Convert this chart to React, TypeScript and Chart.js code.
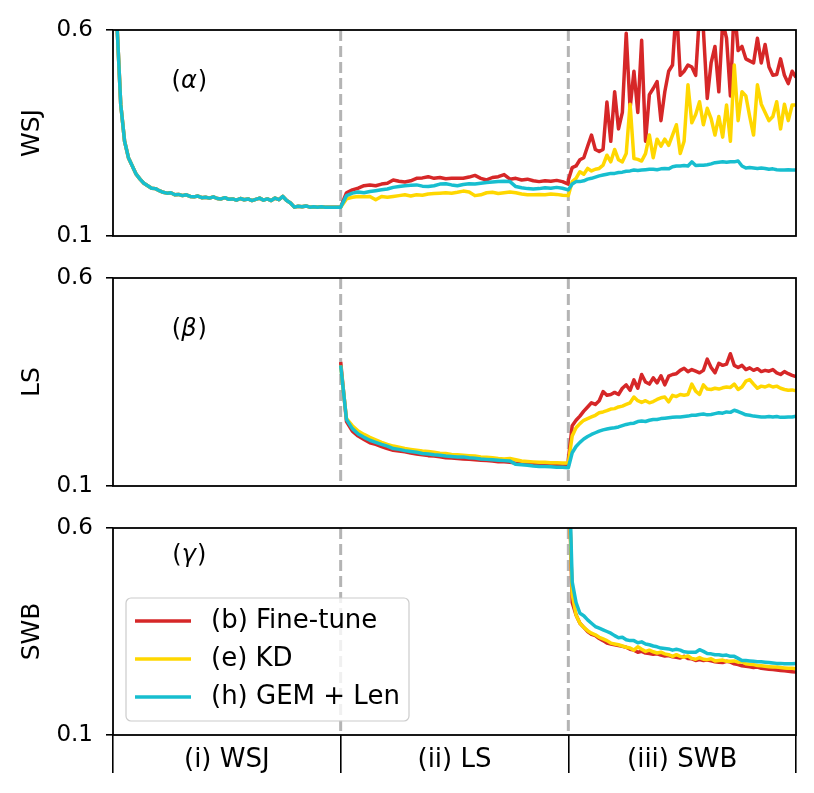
import React, { useEffect, useRef } from "react";
import Chart from "chart.js/auto";

Chart.defaults.font.family = '"DejaVu Sans", sans-serif';
Chart.defaults.color = "#000";

const tasks = ["(i) WSJ", "(ii) LS", "(iii) SWB"];
const methods = ["(b) Fine-tune", "(e) KD", "(h) GEM + Len"];
const colors = ["#d62728", "#ffd700", "#17becf"];
const yTicks = [0.1, 0.6];

// WSJ error while training on WSJ (same model for every method)
const wsjDuringWsj = [
  0.95, 0.62, 0.42, 0.33, 0.29, 0.27, 0.25, 0.238, 0.228, 0.222, 0.216, 0.215, 0.21, 0.206, 0.204,
  0.205, 0.2, 0.201, 0.198, 0.2, 0.196, 0.195, 0.197, 0.193, 0.194, 0.192, 0.195, 0.191, 0.19, 0.193,
  0.189, 0.19, 0.187, 0.191, 0.188, 0.19, 0.186, 0.189, 0.192, 0.187, 0.19, 0.186, 0.192, 0.188, 0.196,
  0.186, 0.18, 0.17, 0.172, 0.171, 0.173, 0.17, 0.171, 0.17, 0.171, 0.17, 0.17, 0.17, 0.17, 0.17,
];

// WSJ error while training on LS
const wsjDuringLsFt = [
  0.17, 0.205, 0.212, 0.216, 0.222, 0.224, 0.222, 0.226, 0.228, 0.236, 0.233, 0.231, 0.234, 0.24, 0.241,
  0.244, 0.24, 0.242, 0.239, 0.24, 0.24, 0.24, 0.243, 0.247, 0.24, 0.236, 0.242, 0.244, 0.249, 0.238,
  0.24, 0.236, 0.238, 0.234, 0.232, 0.234, 0.233, 0.235, 0.232, 0.226,
];
const wsjDuringLsKd = [
  0.17, 0.19, 0.194, 0.196, 0.195, 0.196, 0.188, 0.196, 0.194, 0.196, 0.198, 0.2, 0.197, 0.2, 0.199,
  0.202, 0.203, 0.204, 0.205, 0.204, 0.206, 0.209, 0.207, 0.198, 0.2, 0.205, 0.206, 0.203, 0.205, 0.207,
  0.205, 0.202, 0.2, 0.2, 0.201, 0.2, 0.202, 0.201, 0.199, 0.198,
];
const wsjDuringLsGem = [
  0.17, 0.198, 0.204, 0.207, 0.205, 0.208, 0.21, 0.212, 0.214, 0.218, 0.22, 0.222, 0.223, 0.224, 0.221,
  0.22, 0.222, 0.226, 0.227, 0.224, 0.222, 0.225, 0.227, 0.226, 0.228, 0.23, 0.231, 0.232, 0.233, 0.232,
  0.22, 0.217, 0.215, 0.214, 0.215, 0.217, 0.216, 0.218, 0.216, 0.212,
];

// WSJ error while training on SWB
const wsjDuringSwbFt = [
  0.236, 0.266, 0.27, 0.285, 0.29, 0.318, 0.345, 0.31, 0.305, 0.31, 0.425, 0.33, 0.45, 0.36, 0.4,
  0.592, 0.41, 0.5, 0.4, 0.575, 0.33, 0.443, 0.458, 0.475, 0.38, 0.45, 0.5, 0.515, 0.66, 0.49,
  0.5, 0.515, 0.51, 0.49, 0.64, 0.6, 0.434, 0.52, 0.56, 0.45, 0.62, 0.58, 0.44, 0.66, 0.55,
  0.56, 0.53, 0.525, 0.52, 0.58, 0.52, 0.565, 0.51, 0.49, 0.492, 0.53, 0.49, 0.47, 0.5, 0.485,
];
const wsjDuringSwbKd = [
  0.198, 0.232, 0.24, 0.256, 0.25, 0.264, 0.258, 0.262, 0.264, 0.272, 0.296, 0.28, 0.31, 0.285, 0.28,
  0.3, 0.42, 0.288, 0.286, 0.282, 0.3, 0.345, 0.29, 0.335, 0.318, 0.335, 0.32, 0.345, 0.37, 0.3,
  0.33, 0.467, 0.375, 0.395, 0.426, 0.37, 0.41, 0.385, 0.345, 0.39, 0.34, 0.418, 0.33, 0.515, 0.38,
  0.45, 0.44, 0.39, 0.345, 0.467, 0.42, 0.4, 0.38, 0.39, 0.426, 0.36, 0.42, 0.38, 0.418, 0.418,
];
const wsjDuringSwbGem = [
  0.212, 0.226, 0.232, 0.232, 0.234, 0.238, 0.24, 0.243, 0.246, 0.248, 0.25, 0.252, 0.252, 0.254, 0.255,
  0.257, 0.258, 0.26, 0.259, 0.26, 0.261, 0.262, 0.262, 0.261, 0.263, 0.264, 0.263, 0.268, 0.27, 0.27,
  0.271, 0.27, 0.28, 0.271, 0.272, 0.272, 0.273, 0.275, 0.278, 0.279, 0.28, 0.279, 0.28, 0.28, 0.282,
  0.27, 0.265, 0.266, 0.265, 0.264, 0.265, 0.264, 0.262, 0.263, 0.261, 0.26, 0.26, 0.261, 0.26, 0.26,
];

// LS error while training on LS
const lsDuringLsFt = [
  0.398, 0.255, 0.232, 0.22, 0.212, 0.204, 0.2, 0.195, 0.19, 0.186, 0.184, 0.182, 0.179, 0.177, 0.175,
  0.173, 0.172, 0.17, 0.168, 0.167, 0.166, 0.165, 0.164, 0.163, 0.162, 0.161, 0.16, 0.158, 0.158, 0.157,
  0.155, 0.153, 0.152, 0.151, 0.151, 0.15, 0.149, 0.149, 0.148, 0.148,
];
const lsDuringLsKd = [
  0.39, 0.262, 0.245, 0.232, 0.224, 0.217, 0.211, 0.205, 0.2, 0.196, 0.193, 0.19, 0.188, 0.186, 0.184,
  0.183, 0.181, 0.179, 0.178, 0.176, 0.175, 0.174, 0.173, 0.172, 0.17, 0.169, 0.168, 0.166, 0.165, 0.166,
  0.163, 0.16, 0.159, 0.158, 0.157, 0.157, 0.156, 0.156, 0.155, 0.155,
];
const lsDuringLsGem = [
  0.39, 0.26, 0.238, 0.225, 0.217, 0.21, 0.205, 0.2, 0.196, 0.19, 0.188, 0.185, 0.183, 0.181, 0.178,
  0.177, 0.175, 0.174, 0.172, 0.171, 0.17, 0.17, 0.168, 0.167, 0.165, 0.164, 0.163, 0.162, 0.161, 0.16,
  0.152, 0.151, 0.15, 0.148, 0.147, 0.147, 0.146, 0.145, 0.145, 0.144,
];

// LS error while training on SWB
const lsDuringSwbFt = [
  0.163, 0.245, 0.258, 0.268, 0.28, 0.29, 0.3, 0.296, 0.305, 0.327, 0.318, 0.32, 0.325, 0.32, 0.335,
  0.343, 0.33, 0.355, 0.335, 0.368, 0.35, 0.345, 0.36, 0.348, 0.365, 0.343, 0.364, 0.368, 0.37, 0.378,
  0.383, 0.375, 0.38, 0.376, 0.372, 0.378, 0.405, 0.385, 0.372, 0.395, 0.39, 0.393, 0.418, 0.39, 0.385,
  0.39, 0.38, 0.384, 0.378, 0.382, 0.375, 0.378, 0.376, 0.38, 0.372, 0.368, 0.375, 0.37, 0.366, 0.363,
];
const lsDuringSwbKd = [
  0.155, 0.22, 0.24, 0.25, 0.258, 0.262, 0.266, 0.27, 0.276, 0.278, 0.281, 0.285, 0.286, 0.29, 0.292,
  0.296, 0.3, 0.314, 0.305, 0.301, 0.305, 0.3, 0.303, 0.308, 0.312, 0.314, 0.302, 0.318, 0.315, 0.32,
  0.318, 0.32, 0.345, 0.328, 0.32, 0.343, 0.333, 0.332, 0.335, 0.333, 0.336, 0.338, 0.337, 0.345, 0.332,
  0.338, 0.352, 0.356, 0.345, 0.335, 0.34, 0.338, 0.342, 0.338, 0.34, 0.335, 0.332, 0.33, 0.331, 0.329,
];
const lsDuringSwbGem = [
  0.144, 0.18, 0.195, 0.205, 0.213, 0.219, 0.224, 0.228, 0.232, 0.235, 0.237, 0.239, 0.24, 0.242, 0.245,
  0.248, 0.25, 0.251, 0.255, 0.256, 0.255, 0.258, 0.26, 0.26, 0.262, 0.263, 0.264, 0.265, 0.266, 0.266,
  0.267, 0.268, 0.27, 0.27, 0.272, 0.273, 0.271, 0.272, 0.274, 0.276, 0.275, 0.278, 0.277, 0.282, 0.279,
  0.275, 0.271, 0.27, 0.268, 0.267, 0.266, 0.266, 0.267, 0.266, 0.267, 0.265, 0.265, 0.266, 0.266, 0.268,
];

// SWB error while training on SWB
const swbDuringSwbFt = [
  0.78, 0.42, 0.39, 0.37, 0.36, 0.35, 0.343, 0.34, 0.333, 0.328, 0.322, 0.32, 0.318, 0.316, 0.314,
  0.312, 0.307, 0.305, 0.3, 0.302, 0.298, 0.297, 0.295, 0.296, 0.293, 0.291, 0.292, 0.289, 0.288, 0.286,
  0.29, 0.285, 0.284, 0.28, 0.282, 0.28, 0.281, 0.279, 0.277, 0.276, 0.275, 0.278, 0.276, 0.272, 0.27,
  0.267, 0.266, 0.265, 0.263, 0.264, 0.261, 0.26, 0.259, 0.258, 0.257, 0.256, 0.255, 0.254, 0.253, 0.252,
];
const swbDuringSwbKd = [
  0.75, 0.44, 0.39, 0.37, 0.36, 0.352, 0.346, 0.342, 0.336, 0.332, 0.328, 0.322, 0.32, 0.318, 0.315,
  0.312, 0.31, 0.305, 0.313, 0.307, 0.302, 0.305, 0.301, 0.298, 0.3, 0.296, 0.294, 0.29, 0.294, 0.29,
  0.288, 0.291, 0.285, 0.283, 0.287, 0.283, 0.282, 0.284, 0.279, 0.28, 0.281, 0.278, 0.278, 0.279, 0.276,
  0.277, 0.272, 0.271, 0.27, 0.268, 0.267, 0.266, 0.265, 0.264, 0.264, 0.263, 0.262, 0.261, 0.261, 0.26,
];
const swbDuringSwbGem = [
  0.8, 0.47, 0.42, 0.394, 0.388, 0.378, 0.37, 0.362, 0.358, 0.354, 0.35, 0.346, 0.34, 0.335, 0.336,
  0.33, 0.328, 0.328, 0.323, 0.325, 0.32, 0.318, 0.315, 0.313, 0.31, 0.309, 0.308, 0.305, 0.307, 0.305,
  0.301, 0.3, 0.3, 0.3, 0.306, 0.302, 0.297, 0.296, 0.294, 0.294, 0.292, 0.293, 0.29, 0.29, 0.285,
  0.28, 0.28, 0.279, 0.278, 0.277, 0.277, 0.276, 0.275, 0.274, 0.273, 0.273, 0.272, 0.272, 0.272, 0.273,
];

type Pt = { x: number; y: number };

// spread a task's values evenly over its slot on the x axis
const place = (task: number, vals: number[]): Pt[] =>
  vals.map((v, i) => ({ x: task + i / (vals.length - 1), y: v }));

const FONT = '"DejaVu Sans", sans-serif';

const panels = [
  {
    name: "WSJ",
    tag: "α",
    tagY: 0.474,
    series: [
      [...place(0, wsjDuringWsj), ...place(1, wsjDuringLsFt), ...place(2, wsjDuringSwbFt)],
      [...place(0, wsjDuringWsj), ...place(1, wsjDuringLsKd), ...place(2, wsjDuringSwbKd)],
      [...place(0, wsjDuringWsj), ...place(1, wsjDuringLsGem), ...place(2, wsjDuringSwbGem)],
    ],
  },
  {
    name: "LS",
    tag: "β",
    tagY: 0.475,
    series: [
      [...place(1, lsDuringLsFt), ...place(2, lsDuringSwbFt)],
      [...place(1, lsDuringLsKd), ...place(2, lsDuringSwbKd)],
      [...place(1, lsDuringLsGem), ...place(2, lsDuringSwbGem)],
    ],
  },
  {
    name: "SWB",
    tag: "γ",
    tagY: 0.532,
    series: [place(2, swbDuringSwbFt), place(2, swbDuringSwbKd), place(2, swbDuringSwbGem)],
  },
];

const decor = {
  id: "decor",
  beforeDatasetsDraw(chart: any) {
    const { ctx, chartArea: a, scales } = chart;
    ctx.save();
    ctx.strokeStyle = "#b4b4b4";
    ctx.lineWidth = 3;
    ctx.setLineDash([11, 5]);
    [1, 2].forEach((v) => {
      const px = scales.x.getPixelForValue(v);
      ctx.beginPath();
      ctx.moveTo(px, a.top);
      ctx.lineTo(px, a.bottom);
      ctx.stroke();
    });
    ctx.restore();
  },
  afterDraw(chart: any, _args: any, opts: any) {
    const { ctx, chartArea: a, scales } = chart;
    ctx.save();
    // panel tag "(α)"
    const cx = scales.x.getPixelForValue(0.333);
    const cy = scales.y.getPixelForValue(opts.tagY);
    const up = `24px ${FONT}`;
    const it = `italic 24px ${FONT}`;
    ctx.font = up;
    const wp = ctx.measureText("(").width;
    const wc = ctx.measureText(")").width;
    ctx.font = it;
    const wl = ctx.measureText(opts.tag).width;
    let x = cx - (wp + wl + wc) / 2;
    ctx.fillStyle = "#000";
    ctx.textBaseline = "middle";
    ctx.textAlign = "left";
    ctx.font = up;
    ctx.fillText("(", x, cy);
    x += wp;
    ctx.font = it;
    ctx.fillText(opts.tag, x, cy);
    x += wl + 1;
    ctx.font = up;
    ctx.fillText(")", x, cy);

    // frame
    ctx.strokeStyle = "#000";
    ctx.lineWidth = 1.8;
    ctx.strokeRect(a.left, a.top, a.right - a.left, a.bottom - a.top);

    if (opts.legend) {
      const bx = a.left + 13;
      const by = a.bottom - 137;
      const bw = 283;
      const bh = 123;
      ctx.beginPath();
      ctx.roundRect(bx, by, bw, bh, 5);
      ctx.fillStyle = "rgba(255,255,255,0.8)";
      ctx.fill();
      ctx.strokeStyle = "#cccccc";
      ctx.lineWidth = 1.2;
      ctx.stroke();
      ctx.font = `26px ${FONT}`;
      methods.forEach((m, k) => {
        const ly = by + 23 + k * 38;
        ctx.strokeStyle = colors[k];
        ctx.lineWidth = 3.4;
        ctx.beginPath();
        ctx.moveTo(bx + 9, ly);
        ctx.lineTo(bx + 65, ly);
        ctx.stroke();
        ctx.fillStyle = "#000";
        ctx.fillText(m, bx + 85, ly);
      });
    }
    ctx.restore();
  },
};

interface PanelProps {
  index: number;
  top: number;
  height: number;
  padTop: number;
  padBottom: number;
  bottomAxis: boolean;
}

const Panel: React.FC<PanelProps> = ({ index, top, height, padTop, padBottom, bottomAxis }) => {
  const chartRef = useRef<HTMLCanvasElement>(null);
  const chartInstance = useRef<Chart | null>(null);

  useEffect(() => {
    const ctx = chartRef.current?.getContext("2d");
    if (!ctx) return;
    if (chartInstance.current) chartInstance.current.destroy();

    const p = panels[index];
    chartInstance.current = new Chart(ctx, {
      type: "line",
      data: {
        datasets: p.series.map((d, k) => ({
          label: methods[k],
          data: d,
          borderColor: colors[k],
          backgroundColor: colors[k],
          borderWidth: 3.5,
          pointRadius: 0,
          tension: 0,
          fill: false,
          clip: 0,
          borderJoinStyle: "round",
          order: 2 - k, // cyan on top
        })),
      },
      options: {
        responsive: false,
        animation: false,
        events: [],
        layout: { padding: { top: padTop, bottom: padBottom, left: 0, right: 18 } },
        plugins: {
          legend: { display: false },
          tooltip: { enabled: false },
          decor: { tag: p.tag, tagY: p.tagY, legend: bottomAxis },
        } as any,
        scales: {
          x: {
            type: "linear",
            min: 0,
            max: 3,
            display: bottomAxis,
            afterBuildTicks: (s: any) => {
              s.ticks = [0, 0.5, 1, 1.5, 2, 2.5, 3].map((v) => ({ value: v }));
            },
            afterFit: (s: any) => {
              s.height = bottomAxis ? 58 : 0;
              s.paddingLeft = 0;
              s.paddingRight = 0;
            },
            border: { display: false },
            grid: {
              drawOnChartArea: false,
              drawTicks: true,
              tickLength: 38,
              lineWidth: 1.6,
              tickColor: (c: any) => (c.tick && c.tick.value % 1 === 0 ? "#000" : "rgba(0,0,0,0)"),
            },
            ticks: {
              autoSkip: false,
              maxRotation: 0,
              padding: -28,
              font: { size: 26 },
              color: "#000",
              callback: (v: any) => (Number(v) % 1 === 0 ? "" : tasks[Math.floor(Number(v))]),
            },
          },
          y: {
            min: 0.1,
            max: 0.6,
            afterBuildTicks: (s: any) => {
              s.ticks = yTicks.map((v) => ({ value: v }));
            },
            afterFit: (s: any) => {
              s.width = 113;
              s.paddingTop = 0;
              s.paddingBottom = 0;
            },
            border: { display: false },
            grid: { drawOnChartArea: false, drawTicks: true, tickLength: 7, lineWidth: 1.6, color: "#000" },
            ticks: {
              padding: 13,
              font: { size: 23 },
              color: "#000",
              callback: (v: any) => Number(v).toFixed(1),
            },
            title: { display: true, text: p.name, font: { size: 25 }, color: "#000", padding: { top: 17 } },
          },
        },
      },
      plugins: [decor],
    });

    return () => {
      if (chartInstance.current) {
        chartInstance.current.destroy();
        chartInstance.current = null;
      }
    };
  }, [index, padTop, padBottom, bottomAxis]);

  return (
    <canvas
      ref={chartRef}
      width={814}
      height={height}
      style={{ position: "absolute", left: 0, top, width: 814, height }}
    />
  );
};

export default function App() {
  useEffect(() => {
    document.body.style.margin = "0";
  }, []);
  return (
    <div style={{ position: "relative", width: 814, height: 793, background: "#fff" }}>
      <Panel index={0} top={0} height={256} padTop={30} padBottom={20} bottomAxis={false} />
      <Panel index={1} top={256} height={250} padTop={22} padBottom={20} bottomAxis={false} />
      <Panel index={2} top={506} height={287} padTop={22} padBottom={0} bottomAxis={true} />
    </div>
  );
}
